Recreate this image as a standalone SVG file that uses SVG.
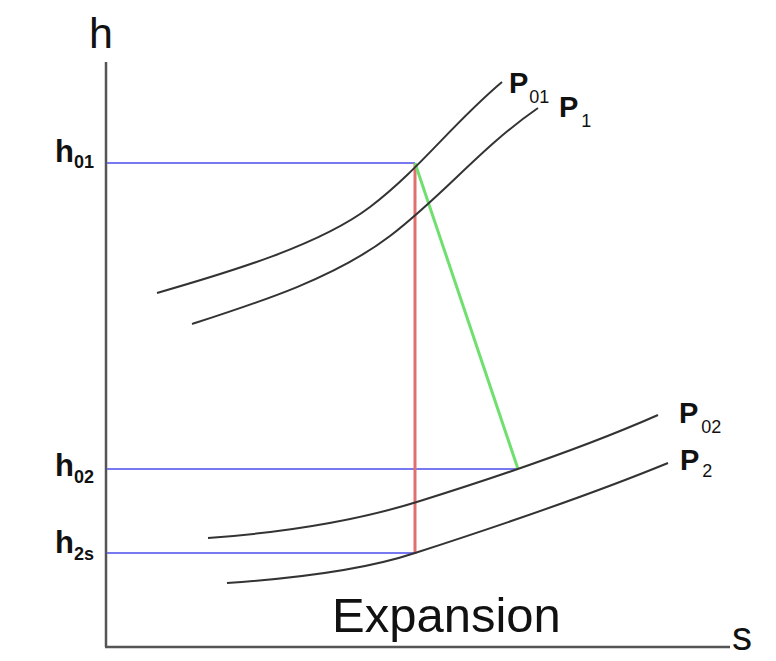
<svg xmlns="http://www.w3.org/2000/svg" width="776" height="661" viewBox="0 0 776 661">
<style>
.axis{stroke:#555;stroke-width:2.5;fill:none}
.iso{stroke:#333;stroke-width:2;fill:none}
.guide{stroke:#7878f0;stroke-width:2;fill:none}
.lbl{font-family:"Liberation Sans",Arial,sans-serif;fill:#111}
.b{font-weight:bold;font-size:29px}
.hb{font-weight:bold;font-size:31px}
.sub{font-size:18px}
.hsub{font-size:18px;font-weight:bold}
</style>
<rect width="776" height="661" fill="#fff"/>
<g id="axes">
<line class="axis" x1="106" y1="62" x2="106" y2="647"/>
<line class="axis" x1="105" y1="647" x2="730" y2="647"/>
<text class="lbl" x="89" y="48" font-size="43">h</text>
<text class="lbl" x="732" y="650" font-size="40">s</text>
</g>
<g id="connectors">
<line class="guide" x1="107" y1="163" x2="415" y2="163"/>
<line class="guide" x1="107" y1="469" x2="518" y2="469"/>
<line class="guide" x1="107" y1="553" x2="415" y2="553"/>
<line x1="415" y1="163" x2="415" y2="554" stroke="#e07070" stroke-width="3"/>
<line x1="415" y1="163" x2="518" y2="469" stroke="#6fe06f" stroke-width="3"/>
</g>
<g id="P01">
<path class="iso" d="M157,293 C230,272 320,245 370,207 S452,124 502,82"/>
<text class="lbl" x="509" y="93"><tspan class="b">P</tspan><tspan class="sub" dx="1" dy="10">01</tspan></text>
</g>
<g id="P1">
<path class="iso" d="M192,324 C260,302 335,278 390,236 S480,148 538,108"/>
<text class="lbl" x="559" y="117"><tspan class="b">P</tspan><tspan class="sub" dx="3" dy="10">1</tspan></text>
</g>
<g id="P02">
<path class="iso" d="M208,538 C290,532 360,520 420,501 C500,476 590,445 658,415"/>
<text class="lbl" x="679" y="423"><tspan class="b">P</tspan><tspan class="sub" dx="3" dy="10">02</tspan></text>
</g>
<g id="P2">
<path class="iso" d="M227,583 C300,578 370,568 415,553 C480,532 590,495 668,463"/>
<text class="lbl" x="680" y="470"><tspan class="b">P</tspan><tspan class="sub" dx="3" dy="7">2</tspan></text>
</g>
<g id="h01">
<text class="lbl" x="55" y="162"><tspan class="hb">h</tspan><tspan class="hsub" dy="6">01</tspan></text>
</g>
<g id="h02">
<text class="lbl" x="55" y="476"><tspan class="hb">h</tspan><tspan class="hsub" dy="7">02</tspan></text>
</g>
<g id="h2s">
<text class="lbl" x="55" y="553"><tspan class="hb">h</tspan><tspan class="hsub" dy="7">2s</tspan></text>
</g>
<g id="title">
<text class="lbl" x="332" y="632" font-size="49">Expansion</text>
</g>
</svg>
